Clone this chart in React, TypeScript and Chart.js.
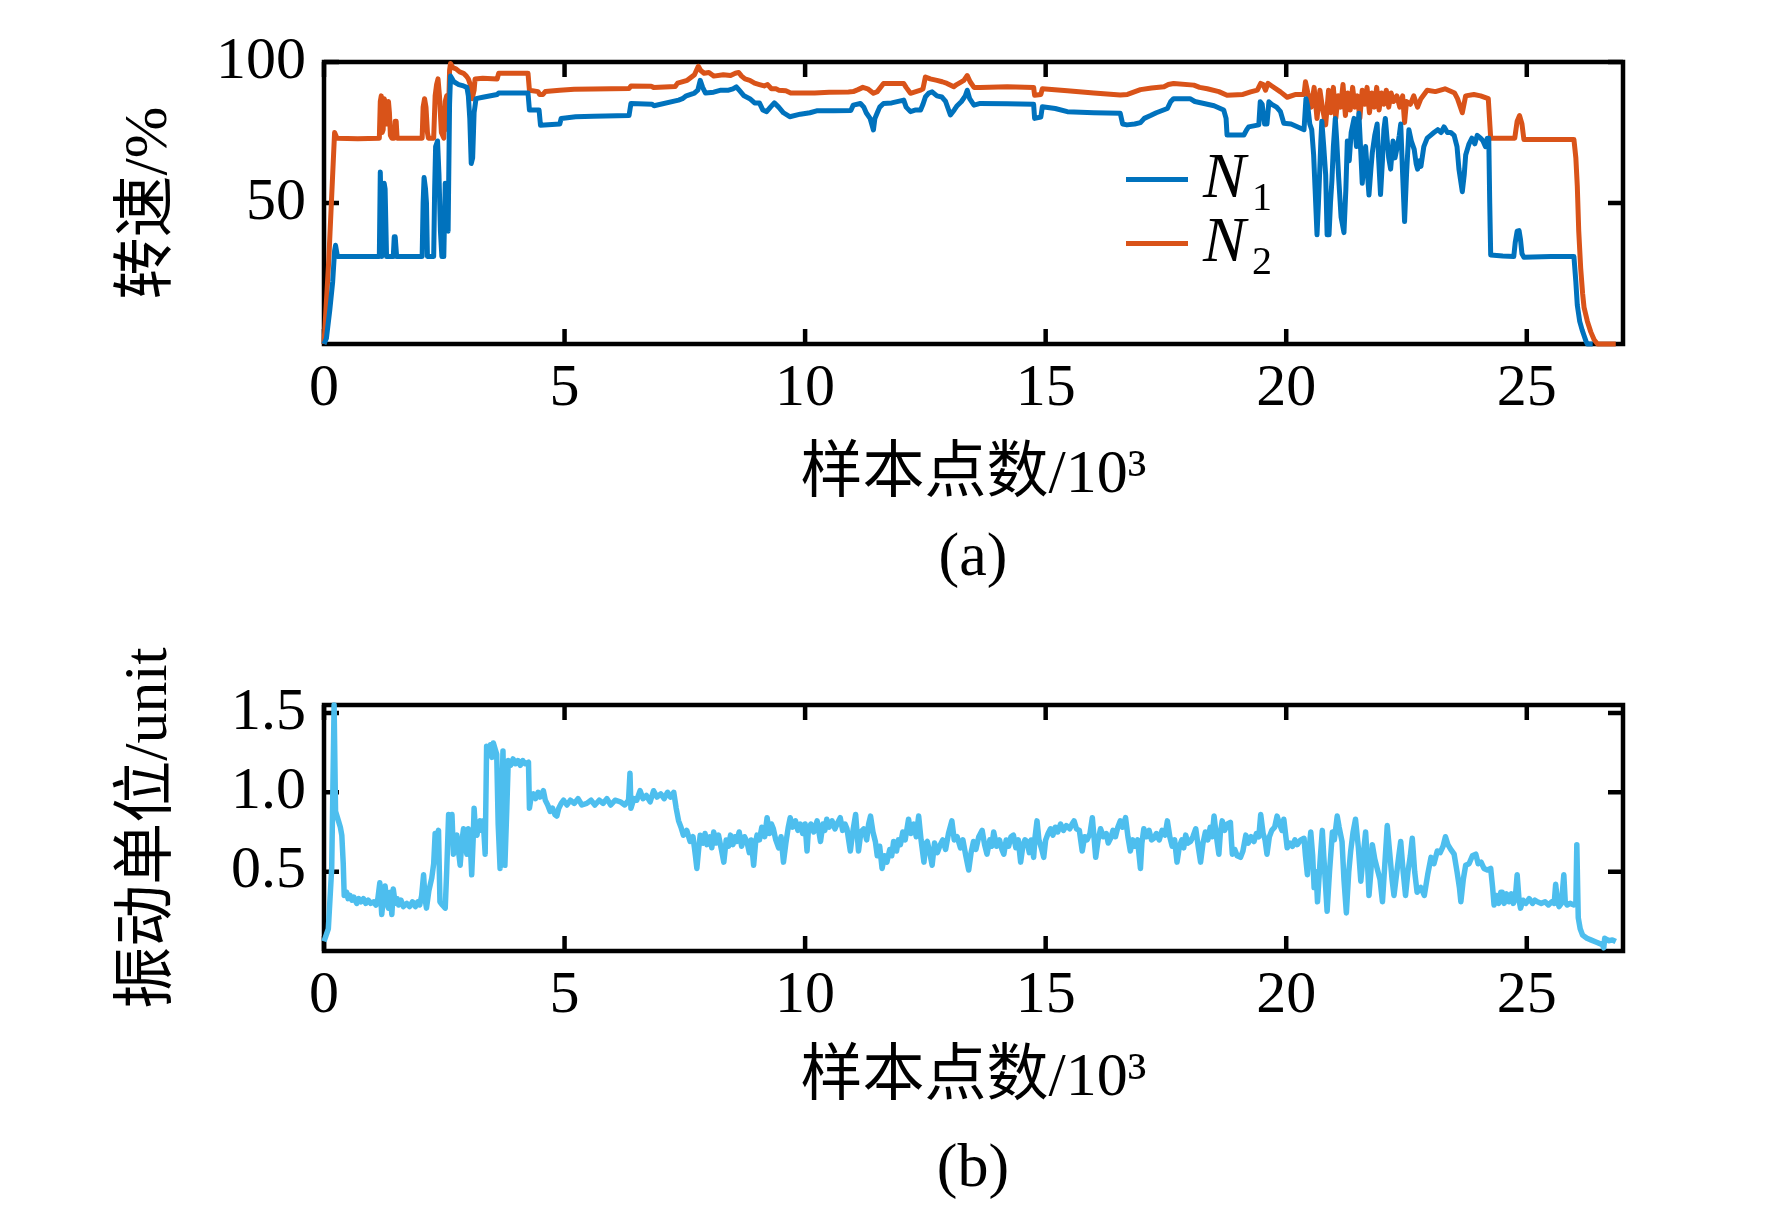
import React, { useEffect, useRef } from 'react';
import { Chart, registerables } from 'chart.js';

Chart.register(...registerables);

const PAGE_W = 1772;
const PAGE_H = 1207;
const AREA_LEFT = 324;
const AREA_RIGHT = 1623;
const TICK_LEN = 15;
const SERIF = '"Liberation Serif", "Times New Roman", "Noto Sans CJK SC", serif';

const N1_COLOR = '#0072BD';
const N2_COLOR = '#D95319';
const VIB_COLOR = '#4DBEEE';

// 样本点数/10³
const xTicks = [0, 5, 10, 15, 20, 25];
const speedTicks = [50, 100];
const vibTicks = [0.5, 1.0, 1.5];

// [样本点数 ×10³, N1 转速 %]
const n1Trace: [number, number][] = [
  [0, 0], [0.05, 2], [0.12, 12], [0.18, 22], [0.22, 33], [0.24, 35], [0.28, 31], [0.7, 31], [1.15, 31], [1.17, 61],
  [1.19, 45], [1.2, 31], [1.23, 40], [1.25, 57], [1.27, 55], [1.3, 31], [1.44, 31], [1.46, 38], [1.48, 38], [1.51, 31],
  [2.04, 31], [2.06, 50], [2.08, 59], [2.11, 55], [2.13, 50], [2.15, 31], [2.28, 31], [2.3, 55], [2.32, 70], [2.36, 72],
  [2.39, 60], [2.42, 40], [2.45, 31], [2.49, 31], [2.52, 57], [2.55, 55], [2.58, 40], [2.61, 85], [2.63, 95], [2.7, 93],
  [2.8, 92], [2.9, 91.5], [2.97, 91], [3.0, 88], [3.03, 80], [3.06, 64], [3.09, 66], [3.12, 82], [3.16, 87], [3.3, 87.5],
  [3.6, 88.5], [3.63, 89], [4.24, 89], [4.27, 83], [4.47, 83], [4.5, 77.6], [4.9, 78], [4.93, 80], [5.23, 80.6], [5.6, 80.8],
  [6.34, 81], [6.38, 85.3], [6.82, 85], [6.86, 84.5], [7.37, 86.5], [7.45, 87], [7.53, 88], [7.7, 89], [7.77, 90], [7.82, 93.5],
  [7.87, 91], [7.93, 89], [8.1, 89.3], [8.25, 90], [8.41, 90], [8.5, 90.5], [8.57, 91.2], [8.63, 90], [8.73, 88], [8.85, 87],
  [8.95, 85.5], [9.05, 85.5], [9.12, 83], [9.2, 82.4], [9.28, 84], [9.36, 85.5], [9.45, 84], [9.55, 82], [9.68, 80.6], [9.9, 81.5],
  [10.1, 82], [10.24, 82.7], [10.6, 82.7], [10.95, 82.8], [11.0, 84.7], [11.15, 85.3], [11.22, 84], [11.27, 82], [11.35, 80], [11.42, 75.9],
  [11.45, 80], [11.5, 82], [11.55, 84], [11.63, 85.3], [11.8, 85.5], [12.05, 86.5], [12.1, 84], [12.19, 82.4], [12.3, 83], [12.4, 83],
  [12.45, 85], [12.5, 87.6], [12.57, 89], [12.64, 89.4], [12.74, 88], [12.84, 87.6], [12.92, 86], [13.02, 81.2], [13.1, 83], [13.16, 84.5],
  [13.25, 86], [13.33, 88], [13.37, 90], [13.42, 87], [13.51, 84.7], [13.64, 85.3], [14.2, 85.2], [14.75, 85], [14.77, 80], [14.9, 80.5],
  [14.93, 84.1], [15.2, 83.5], [15.45, 82.4], [16.0, 82], [16.55, 81.8], [16.6, 78], [16.69, 77.7], [16.85, 78], [16.97, 78.5], [17.05, 80],
  [17.18, 81], [17.3, 82], [17.53, 83.5], [17.6, 86], [17.66, 87], [18.0, 87], [18.1, 86], [18.29, 85.3], [18.5, 84.5], [18.7, 83],
  [18.75, 80], [18.77, 74.1], [19.12, 74.1], [19.18, 76], [19.22, 77], [19.43, 77.7], [19.46, 85.9], [19.5, 85], [19.55, 78], [19.6, 78],
  [19.64, 85.9], [19.7, 85], [19.8, 84], [19.88, 82.4], [19.95, 78.3], [20.1, 78], [20.37, 76], [20.41, 87], [20.45, 84], [20.49, 78],
  [20.53, 76], [20.57, 67], [20.6, 55], [20.64, 38.7], [20.67, 50], [20.7, 63], [20.72, 72], [20.74, 79], [20.78, 70], [20.82, 60],
  [20.85, 38.7], [20.89, 38.7], [20.92, 50], [20.95, 58], [20.98, 70], [21.02, 80], [21.05, 72], [21.09, 59], [21.14, 45], [21.2, 39.5],
  [21.24, 55], [21.27, 72], [21.31, 65], [21.35, 75], [21.41, 80], [21.46, 70], [21.51, 81.8], [21.55, 68], [21.58, 57], [21.62, 65],
  [21.65, 70], [21.69, 60], [21.72, 52.8], [21.76, 62], [21.79, 68], [21.84, 74], [21.89, 78], [21.92, 66], [21.96, 53], [22.0, 65],
  [22.03, 76], [22.06, 80], [22.1, 72], [22.13, 66], [22.17, 62], [22.22, 72], [22.26, 66], [22.31, 70], [22.35, 74], [22.38, 78],
  [22.42, 60], [22.46, 43.4], [22.5, 60], [22.55, 76], [22.6, 72], [22.66, 69], [22.7, 64], [22.73, 62], [22.77, 65], [22.8, 63],
  [22.86, 70], [22.93, 73], [23.0, 74], [23.07, 75], [23.15, 76], [23.22, 75], [23.28, 77], [23.35, 75], [23.42, 75], [23.49, 74],
  [23.55, 70], [23.59, 62], [23.66, 54], [23.7, 60], [23.73, 67], [23.8, 71], [23.86, 73], [23.92, 71], [23.97, 74], [24.04, 73],
  [24.09, 72], [24.14, 70], [24.18, 73], [24.21, 73], [24.23, 50], [24.25, 31.6], [24.5, 31.2], [24.73, 31], [24.76, 36], [24.8, 40],
  [24.84, 40.2], [24.87, 37], [24.9, 32], [24.94, 30.8], [25.5, 31], [25.98, 31], [26.02, 22], [26.05, 13.8], [26.1, 8], [26.15, 5],
  [26.19, 3], [26.23, 1], [26.26, 0], [26.37, 0],
];

// [样本点数 ×10³, N2 转速 %]
const n2Trace: [number, number][] = [
  [0, 0], [0.1, 30], [0.22, 75], [0.27, 73], [0.7, 72.8], [1.15, 73], [1.17, 86], [1.19, 88], [1.21, 75], [1.23, 76],
  [1.25, 87], [1.27, 86], [1.3, 78], [1.32, 80], [1.34, 86], [1.36, 82], [1.38, 74], [1.41, 73], [1.46, 73], [1.48, 79],
  [1.5, 79], [1.52, 73], [2.04, 73], [2.06, 84], [2.09, 87], [2.12, 84], [2.15, 75], [2.17, 73], [2.28, 73], [2.31, 88],
  [2.34, 92], [2.37, 94], [2.4, 88], [2.44, 75], [2.49, 73], [2.52, 86], [2.55, 88], [2.58, 76], [2.61, 97], [2.63, 99.5],
  [2.68, 98], [2.75, 97.5], [2.82, 96.5], [2.9, 96], [2.96, 95], [3.0, 94], [3.04, 92], [3.08, 87], [3.12, 90], [3.14, 94],
  [3.3, 94.2], [3.6, 94], [3.63, 96], [4.24, 96], [4.27, 90], [4.45, 89.5], [4.48, 88.5], [4.55, 88.5], [4.6, 89.5], [4.9, 90],
  [5.2, 90.3], [5.6, 90.4], [6.34, 90.6], [6.38, 91.5], [6.8, 91.4], [6.85, 91], [7.3, 91.3], [7.35, 92.5], [7.55, 93.5], [7.7, 95.5],
  [7.78, 98.5], [7.83, 97], [7.9, 96], [8.0, 96.3], [8.1, 95], [8.3, 95.5], [8.45, 95.2], [8.55, 96], [8.62, 96.3], [8.68, 95],
  [8.75, 94], [8.85, 93.5], [8.95, 92.5], [9.05, 92], [9.15, 91.5], [9.22, 92], [9.3, 90.5], [9.4, 90.5], [9.45, 90], [9.6, 89.8],
  [9.7, 89], [10.2, 89], [10.5, 89.3], [10.9, 89.4], [11.0, 89.5], [11.1, 90.2], [11.2, 91], [11.3, 90.5], [11.42, 88.9], [11.5, 89.5],
  [11.63, 92.4], [12.05, 92.4], [12.1, 91], [12.19, 88.9], [12.4, 90], [12.45, 90.5], [12.5, 94.7], [12.6, 94], [12.74, 93.5], [12.85, 93],
  [12.95, 92.4], [13.09, 91.2], [13.15, 92], [13.23, 92.8], [13.3, 93.5], [13.37, 95.2], [13.43, 93], [13.51, 91], [13.64, 91], [14.2, 91.2],
  [14.75, 91], [14.77, 88.2], [14.9, 88.5], [14.93, 90.5], [15.45, 89.8], [16.0, 89], [16.55, 88.3], [16.7, 88.5], [16.97, 90.2], [17.2, 90.8],
  [17.46, 91.2], [17.55, 92], [17.66, 92.4], [18.08, 91.8], [18.2, 91], [18.36, 90.5], [18.6, 89.5], [18.77, 88.2], [19.1, 88.5], [19.26, 89.4],
  [19.4, 90], [19.47, 92.4], [19.52, 92], [19.57, 90], [19.62, 92.4], [19.7, 91.5], [19.88, 89.4], [20.02, 87.5], [20.2, 88.5], [20.37, 88.5],
  [20.4, 93], [20.45, 89], [20.52, 84], [20.58, 91], [20.64, 80], [20.7, 90], [20.76, 83], [20.82, 77.7], [20.88, 90], [20.93, 82],
  [20.98, 91], [21.03, 80], [21.08, 88], [21.13, 84], [21.18, 92], [21.23, 81], [21.28, 89], [21.33, 83], [21.38, 91], [21.43, 84],
  [21.48, 88], [21.53, 80], [21.58, 90], [21.63, 85], [21.68, 91], [21.73, 82], [21.78, 89], [21.83, 84], [21.88, 91], [21.93, 83],
  [21.98, 89], [22.03, 85], [22.08, 90], [22.13, 84], [22.18, 89], [22.23, 86], [22.3, 88], [22.36, 84], [22.42, 88], [22.46, 78.5],
  [22.5, 86], [22.58, 85], [22.65, 88], [22.73, 84], [22.8, 87], [22.93, 90], [23.1, 89.5], [23.3, 90.5], [23.5, 89], [23.56, 87],
  [23.66, 82], [23.73, 88], [23.9, 88.5], [24.04, 88], [24.2, 87], [24.25, 73], [24.75, 73], [24.8, 79], [24.85, 81], [24.9, 78],
  [24.94, 72.5], [25.98, 72.5], [26.02, 66], [26.05, 56], [26.08, 40], [26.12, 27], [26.16, 18], [26.19, 13], [26.26, 8], [26.33, 4.3],
  [26.4, 1.5], [26.47, 0], [26.85, 0],
];

// [样本点数 ×10³, 振动 unit]
const vibTrace: [number, number][] = [
  [0, 0.06], [0.09, 0.14], [0.16, 0.52], [0.21, 1.55], [0.24, 0.88], [0.27, 0.85], [0.3, 0.82], [0.34, 0.78], [0.37, 0.73], [0.4, 0.55],
  [0.42, 0.35], [0.47, 0.37], [0.5, 0.33], [0.54, 0.35], [0.58, 0.32], [0.62, 0.34], [0.68, 0.30], [0.72, 0.33], [0.77, 0.31], [0.82, 0.33],
  [0.87, 0.30], [0.92, 0.32], [0.97, 0.30], [1.03, 0.31], [1.08, 0.29], [1.12, 0.33], [1.16, 0.43], [1.2, 0.23], [1.24, 0.35], [1.27, 0.41],
  [1.31, 0.30], [1.34, 0.27], [1.38, 0.37], [1.41, 0.23], [1.44, 0.39], [1.48, 0.30], [1.52, 0.33], [1.55, 0.29], [1.6, 0.32], [1.65, 0.28],
  [1.72, 0.30], [1.78, 0.28], [1.84, 0.31], [1.9, 0.28], [1.95, 0.31], [1.99, 0.29], [2.03, 0.35], [2.07, 0.48], [2.1, 0.33], [2.13, 0.27],
  [2.18, 0.38], [2.24, 0.46], [2.28, 0.55], [2.31, 0.74], [2.35, 0.72], [2.38, 0.76], [2.41, 0.31], [2.46, 0.29], [2.52, 0.27], [2.55, 0.5],
  [2.59, 0.86], [2.62, 0.8], [2.66, 0.86], [2.69, 0.61], [2.72, 0.7], [2.76, 0.73], [2.8, 0.62], [2.83, 0.54], [2.87, 0.7], [2.9, 0.77],
  [2.94, 0.66], [2.97, 0.61], [3.0, 0.77], [3.04, 0.68], [3.07, 0.48], [3.1, 0.7], [3.12, 0.90], [3.15, 0.75], [3.18, 0.73], [3.21, 0.8],
  [3.24, 0.82], [3.28, 0.76], [3.31, 0.82], [3.35, 0.61], [3.38, 1.29], [3.42, 1.25], [3.46, 1.3], [3.49, 1.22], [3.52, 1.31], [3.56, 1.27],
  [3.59, 1.24], [3.62, 0.8], [3.66, 0.52], [3.69, 0.9], [3.72, 1.26], [3.74, 0.9], [3.76, 0.54], [3.8, 0.9], [3.83, 1.20], [3.88, 1.17],
  [3.93, 1.21], [3.98, 1.18], [4.03, 1.2], [4.08, 1.17], [4.13, 1.2], [4.18, 1.18], [4.25, 1.19], [4.27, 0.90], [4.31, 0.98], [4.35, 0.99],
  [4.4, 0.96], [4.45, 1.0], [4.49, 0.97], [4.53, 0.99], [4.56, 1.01], [4.6, 0.95], [4.65, 0.92], [4.7, 0.88], [4.75, 0.9], [4.8, 0.86],
  [4.84, 0.85], [4.88, 0.9], [4.93, 0.93], [4.98, 0.95], [5.05, 0.92], [5.12, 0.95], [5.2, 0.93], [5.28, 0.96], [5.36, 0.92], [5.46, 0.93],
  [5.55, 0.95], [5.63, 0.92], [5.72, 0.95], [5.8, 0.93], [5.88, 0.96], [5.96, 0.92], [6.05, 0.95], [6.16, 0.94], [6.25, 0.92], [6.33, 0.95],
  [6.36, 1.12], [6.38, 0.9], [6.44, 0.96], [6.5, 0.95], [6.57, 1.01], [6.63, 0.96], [6.7, 0.98], [6.78, 0.94], [6.85, 1.01], [6.92, 0.97],
  [7.0, 0.99], [7.07, 0.96], [7.14, 1.0], [7.2, 0.97], [7.27, 1.00], [7.32, 0.9], [7.37, 0.82], [7.42, 0.78], [7.47, 0.73], [7.54, 0.76],
  [7.61, 0.69], [7.67, 0.72], [7.72, 0.6], [7.75, 0.52], [7.79, 0.65], [7.82, 0.73], [7.88, 0.68], [7.92, 0.74], [7.96, 0.67], [8.02, 0.72],
  [8.06, 0.65], [8.1, 0.75], [8.15, 0.68], [8.2, 0.73], [8.26, 0.64], [8.31, 0.56], [8.36, 0.7], [8.41, 0.66], [8.45, 0.73], [8.5, 0.67],
  [8.54, 0.72], [8.58, 0.69], [8.63, 0.75], [8.68, 0.66], [8.74, 0.72], [8.79, 0.69], [8.84, 0.62], [8.88, 0.7], [8.93, 0.54], [8.97, 0.68],
  [9.0, 0.73], [9.05, 0.7], [9.1, 0.78], [9.16, 0.72], [9.21, 0.84], [9.26, 0.74], [9.3, 0.8], [9.34, 0.77], [9.39, 0.7], [9.45, 0.65],
  [9.5, 0.72], [9.55, 0.56], [9.6, 0.68], [9.65, 0.78], [9.69, 0.84], [9.74, 0.78], [9.8, 0.82], [9.85, 0.76], [9.9, 0.80], [9.95, 0.74],
  [10.0, 0.8], [10.04, 0.63], [10.07, 0.77], [10.12, 0.8], [10.18, 0.75], [10.25, 0.82], [10.32, 0.69], [10.37, 0.8], [10.41, 0.76], [10.45, 0.83],
  [10.5, 0.78], [10.56, 0.82], [10.62, 0.77], [10.68, 0.81], [10.73, 0.84], [10.78, 0.76], [10.83, 0.8], [10.87, 0.77], [10.94, 0.63], [10.99, 0.75],
  [11.05, 0.86], [11.11, 0.63], [11.16, 0.75], [11.22, 0.77], [11.28, 0.7], [11.32, 0.8], [11.36, 0.85], [11.41, 0.75], [11.46, 0.69], [11.5, 0.6],
  [11.55, 0.66], [11.6, 0.52], [11.65, 0.6], [11.7, 0.56], [11.76, 0.64], [11.8, 0.6], [11.84, 0.69], [11.9, 0.63], [11.94, 0.7], [11.98, 0.67],
  [12.03, 0.75], [12.08, 0.7], [12.15, 0.83], [12.2, 0.74], [12.26, 0.8], [12.31, 0.72], [12.36, 0.85], [12.41, 0.7], [12.47, 0.56], [12.51, 0.68],
  [12.54, 0.69], [12.59, 0.62], [12.64, 0.54], [12.69, 0.68], [12.75, 0.62], [12.81, 0.67], [12.86, 0.7], [12.92, 0.64], [12.98, 0.74], [13.05, 0.82],
  [13.1, 0.7], [13.16, 0.72], [13.23, 0.65], [13.28, 0.7], [13.34, 0.6], [13.4, 0.51], [13.45, 0.62], [13.5, 0.69], [13.55, 0.64], [13.61, 0.72],
  [13.68, 0.76], [13.73, 0.67], [13.78, 0.61], [13.84, 0.7], [13.88, 0.66], [13.92, 0.75], [13.98, 0.66], [14.04, 0.7], [14.09, 0.64], [14.13, 0.61],
  [14.18, 0.7], [14.23, 0.66], [14.28, 0.72], [14.33, 0.73], [14.38, 0.65], [14.43, 0.7], [14.48, 0.56], [14.53, 0.67], [14.57, 0.7], [14.61, 0.69],
  [14.66, 0.62], [14.7, 0.7], [14.75, 0.59], [14.78, 0.72], [14.82, 0.82], [14.86, 0.7], [14.91, 0.65], [14.96, 0.59], [15.0, 0.7], [15.05, 0.74],
  [15.1, 0.77], [15.15, 0.73], [15.2, 0.78], [15.25, 0.75], [15.31, 0.80], [15.37, 0.76], [15.43, 0.79], [15.5, 0.77], [15.55, 0.8], [15.59, 0.82],
  [15.64, 0.77], [15.7, 0.76], [15.76, 0.63], [15.81, 0.72], [15.86, 0.7], [15.92, 0.74], [15.97, 0.84], [16.01, 0.7], [16.04, 0.59], [16.09, 0.7],
  [16.14, 0.77], [16.2, 0.72], [16.26, 0.74], [16.3, 0.68], [16.35, 0.71], [16.4, 0.76], [16.45, 0.72], [16.5, 0.78], [16.55, 0.82], [16.6, 0.78],
  [16.66, 0.84], [16.71, 0.72], [16.76, 0.63], [16.81, 0.7], [16.86, 0.66], [16.91, 0.7], [16.97, 0.52], [17.0, 0.68], [17.04, 0.77], [17.1, 0.72],
  [17.15, 0.76], [17.2, 0.7], [17.25, 0.71], [17.3, 0.74], [17.36, 0.7], [17.42, 0.76], [17.48, 0.73], [17.53, 0.82], [17.58, 0.72], [17.63, 0.66],
  [17.68, 0.7], [17.73, 0.56], [17.78, 0.66], [17.83, 0.7], [17.87, 0.65], [17.91, 0.73], [17.96, 0.68], [18.01, 0.69], [18.06, 0.72], [18.12, 0.77],
  [18.17, 0.66], [18.22, 0.56], [18.27, 0.68], [18.32, 0.75], [18.37, 0.7], [18.42, 0.78], [18.46, 0.72], [18.5, 0.85], [18.55, 0.72], [18.6, 0.61],
  [18.63, 0.74], [18.67, 0.82], [18.72, 0.76], [18.78, 0.8], [18.84, 0.81], [18.86, 0.7], [18.88, 0.61], [18.93, 0.64], [18.98, 0.6], [19.05, 0.59],
  [19.1, 0.63], [19.16, 0.73], [19.21, 0.68], [19.27, 0.72], [19.33, 0.69], [19.38, 0.74], [19.43, 0.72], [19.47, 0.86], [19.52, 0.74], [19.56, 0.7],
  [19.6, 0.61], [19.65, 0.72], [19.7, 0.76], [19.76, 0.78], [19.81, 0.85], [19.86, 0.8], [19.91, 0.76], [19.95, 0.83], [20.02, 0.65], [20.08, 0.68],
  [20.13, 0.66], [20.18, 0.7], [20.23, 0.67], [20.3, 0.7], [20.37, 0.71], [20.4, 0.6], [20.44, 0.48], [20.47, 0.62], [20.51, 0.75], [20.55, 0.6],
  [20.58, 0.4], [20.62, 0.5], [20.65, 0.31], [20.7, 0.55], [20.75, 0.76], [20.78, 0.6], [20.82, 0.4], [20.85, 0.25], [20.9, 0.5], [20.96, 0.75],
  [21.0, 0.7], [21.06, 0.85], [21.1, 0.78], [21.16, 0.69], [21.2, 0.45], [21.25, 0.24], [21.3, 0.5], [21.34, 0.63], [21.39, 0.75], [21.44, 0.83],
  [21.5, 0.65], [21.55, 0.44], [21.6, 0.6], [21.65, 0.75], [21.69, 0.55], [21.72, 0.35], [21.76, 0.5], [21.79, 0.67], [21.84, 0.58], [21.89, 0.52],
  [21.95, 0.45], [22.0, 0.31], [22.05, 0.55], [22.1, 0.79], [22.15, 0.62], [22.2, 0.45], [22.24, 0.35], [22.3, 0.5], [22.34, 0.6], [22.38, 0.69],
  [22.43, 0.5], [22.48, 0.35], [22.53, 0.5], [22.58, 0.6], [22.62, 0.71], [22.67, 0.5], [22.72, 0.37], [22.8, 0.4], [22.87, 0.35], [22.94, 0.48],
  [23.01, 0.59], [23.07, 0.55], [23.14, 0.63], [23.2, 0.62], [23.26, 0.66], [23.31, 0.72], [23.36, 0.67], [23.42, 0.64], [23.49, 0.61], [23.55, 0.5],
  [23.6, 0.4], [23.63, 0.31], [23.68, 0.45], [23.73, 0.54], [23.8, 0.55], [23.87, 0.6], [23.94, 0.61], [23.99, 0.55], [24.05, 0.56], [24.11, 0.52],
  [24.18, 0.51], [24.25, 0.52], [24.29, 0.4], [24.32, 0.29], [24.37, 0.35], [24.42, 0.3], [24.46, 0.37], [24.49, 0.37], [24.53, 0.3], [24.58, 0.36],
  [24.63, 0.31], [24.68, 0.36], [24.72, 0.3], [24.76, 0.33], [24.8, 0.48], [24.84, 0.32], [24.87, 0.27], [24.92, 0.32], [24.98, 0.3], [25.05, 0.33],
  [25.12, 0.3], [25.17, 0.32], [25.22, 0.31], [25.3, 0.3], [25.38, 0.31], [25.45, 0.29], [25.52, 0.31], [25.57, 0.3], [25.6, 0.42], [25.64, 0.31],
  [25.67, 0.28], [25.72, 0.3], [25.77, 0.48], [25.8, 0.31], [25.84, 0.29], [25.9, 0.3], [25.98, 0.29], [26.02, 0.3], [26.04, 0.67], [26.07, 0.21],
  [26.11, 0.14], [26.16, 0.10], [26.25, 0.08], [26.33, 0.07], [26.45, 0.055], [26.57, 0.04], [26.6, 0.02], [26.62, 0.08], [26.7, 0.065], [26.78, 0.07],
  [26.85, 0.06],
];

// frame around the plot area + inward ticks on all four sides (drawn under the lines)
const frameAndTicks = {
  id: 'frameAndTicks',
  beforeDatasetsDraw(chart: any) {
    const { ctx, chartArea } = chart;
    const { left, right, top, bottom } = chartArea;
    const xs = chart.scales.x;
    const ys = chart.scales.y;
    ctx.save();
    ctx.strokeStyle = '#000';
    ctx.lineWidth = 4.5;
    ctx.beginPath();
    xs.ticks.forEach((t: any) => {
      const px = xs.getPixelForValue(t.value);
      ctx.moveTo(px, bottom);
      ctx.lineTo(px, bottom - TICK_LEN);
      ctx.moveTo(px, top);
      ctx.lineTo(px, top + TICK_LEN);
    });
    ys.ticks.forEach((t: any) => {
      const py = ys.getPixelForValue(t.value);
      ctx.moveTo(left, py);
      ctx.lineTo(left + TICK_LEN, py);
      ctx.moveTo(right, py);
      ctx.lineTo(right - TICK_LEN, py);
    });
    ctx.stroke();
    ctx.strokeRect(left, top, right - left, bottom - top);
    ctx.restore();
  },
};

interface Series {
  label: string;
  points: [number, number][];
  color: string;
  width: number;
}

interface PanelProps {
  top: number;
  height: number;
  areaTop: number;
  areaBottom: number;
  yMax: number;
  yTickValues: number[];
  yDigits: number;
  yTitle: string;
  xTitleCenter: number;
  series: Series[];
}

function Panel({ top, height, areaTop, areaBottom, yMax, yTickValues, yDigits, yTitle, xTitleCenter, series }: PanelProps) {
  const canvasRef = useRef<HTMLCanvasElement | null>(null);

  useEffect(() => {
    if (!canvasRef.current) return;
    const tickFont = { family: SERIF, size: 60, lineHeight: 1 };
    const titleFont = { family: SERIF, size: 62, lineHeight: 1 };

    const chart = new Chart(canvasRef.current, {
      type: 'line',
      data: {
        datasets: series.map((s) => ({
          label: s.label,
          data: s.points.map(([x, y]) => ({ x, y })),
          borderColor: s.color,
          backgroundColor: s.color,
          borderWidth: s.width,
          borderJoinStyle: 'round',
          pointRadius: 0,
          tension: 0,
          fill: false,
          clip: 6,
        })),
      },
      options: {
        responsive: false,
        animation: false,
        events: [],
        layout: { padding: { top: areaTop, right: PAGE_W - AREA_RIGHT, bottom: 0, left: 0 } },
        plugins: { legend: { display: false }, tooltip: { enabled: false } },
        scales: {
          x: {
            type: 'linear',
            min: 0,
            max: 27,
            afterFit: (s: any) => { s.height = height - areaBottom; },
            afterBuildTicks: (s: any) => { s.ticks = xTicks.map((value) => ({ value })); },
            grid: { display: false, drawTicks: false, tickLength: 0 },
            border: { display: false },
            ticks: { font: tickFont, color: '#000', padding: 15, autoSkip: false, maxRotation: 0 },
            title: {
              display: true,
              text: '样本点数/10³',
              font: titleFont,
              color: '#000',
              padding: { top: 0, bottom: height - xTitleCenter - 31 },
            },
          },
          y: {
            type: 'linear',
            min: 0,
            max: yMax,
            afterFit: (s: any) => { s.width = AREA_LEFT; },
            afterBuildTicks: (s: any) => { s.ticks = yTickValues.map((value) => ({ value })); },
            grid: { display: false, drawTicks: false, tickLength: 0 },
            border: { display: false },
            ticks: {
              font: tickFont,
              color: '#000',
              padding: 18,
              autoSkip: false,
              callback: (v: any) => Number(v).toFixed(yDigits),
            },
            title: {
              display: true,
              text: yTitle,
              font: titleFont,
              color: '#000',
              padding: { top: 150 - 31, bottom: 0 },
            },
          },
        },
      } as any,
      plugins: [frameAndTicks],
    });

    return () => chart.destroy();
  }, []);

  return (
    <canvas
      ref={canvasRef}
      width={PAGE_W}
      height={height}
      style={{ position: 'absolute', left: 0, top, width: PAGE_W, height }}
    />
  );
}

const textBase: React.CSSProperties = {
  position: 'absolute',
  fontFamily: SERIF,
  color: '#000',
  whiteSpace: 'nowrap',
  margin: 0,
};

function LegendRow({ y, color, sub }: { y: number; color: string; sub: string }) {
  return (
    <>
      <div style={{ position: 'absolute', left: 1126, top: y - 2.5, width: 62, height: 5, background: color }} />
      <div style={{ ...textBase, left: 1203, top: y - 35, fontSize: 64, lineHeight: '64px', fontStyle: 'italic' }}>N</div>
      <div style={{ ...textBase, left: 1252, top: y - 2, fontSize: 40, lineHeight: '40px' }}>{sub}</div>
    </>
  );
}

export default function App() {
  return (
    <div style={{ position: 'absolute', left: 0, top: 0, width: PAGE_W, height: PAGE_H, background: '#fff', overflow: 'hidden' }}>
      <Panel
        top={0}
        height={620}
        areaTop={62}
        areaBottom={344}
        yMax={100}
        yTickValues={speedTicks}
        yDigits={0}
        yTitle="转速/%"
        xTitleCenter={476}
        series={[
          { label: 'N1', points: n1Trace, color: N1_COLOR, width: 5 },
          { label: 'N2', points: n2Trace, color: N2_COLOR, width: 5 },
        ]}
      />
      <Panel
        top={640}
        height={567}
        areaTop={65}
        areaBottom={311}
        yMax={1.55}
        yTickValues={vibTicks}
        yDigits={1}
        yTitle="振动单位/unit"
        xTitleCenter={439}
        series={[{ label: '振动', points: vibTrace, color: VIB_COLOR, width: 5.5 }]}
      />
      <LegendRow y={179} color={N1_COLOR} sub="1" />
      <LegendRow y={243} color={N2_COLOR} sub="2" />
      <div style={{ ...textBase, left: 873, width: 200, textAlign: 'center', top: 523, fontSize: 62, lineHeight: '62px' }}>(a)</div>
      <div style={{ ...textBase, left: 873, width: 200, textAlign: 'center', top: 1134, fontSize: 62, lineHeight: '62px' }}>(b)</div>
    </div>
  );
}
